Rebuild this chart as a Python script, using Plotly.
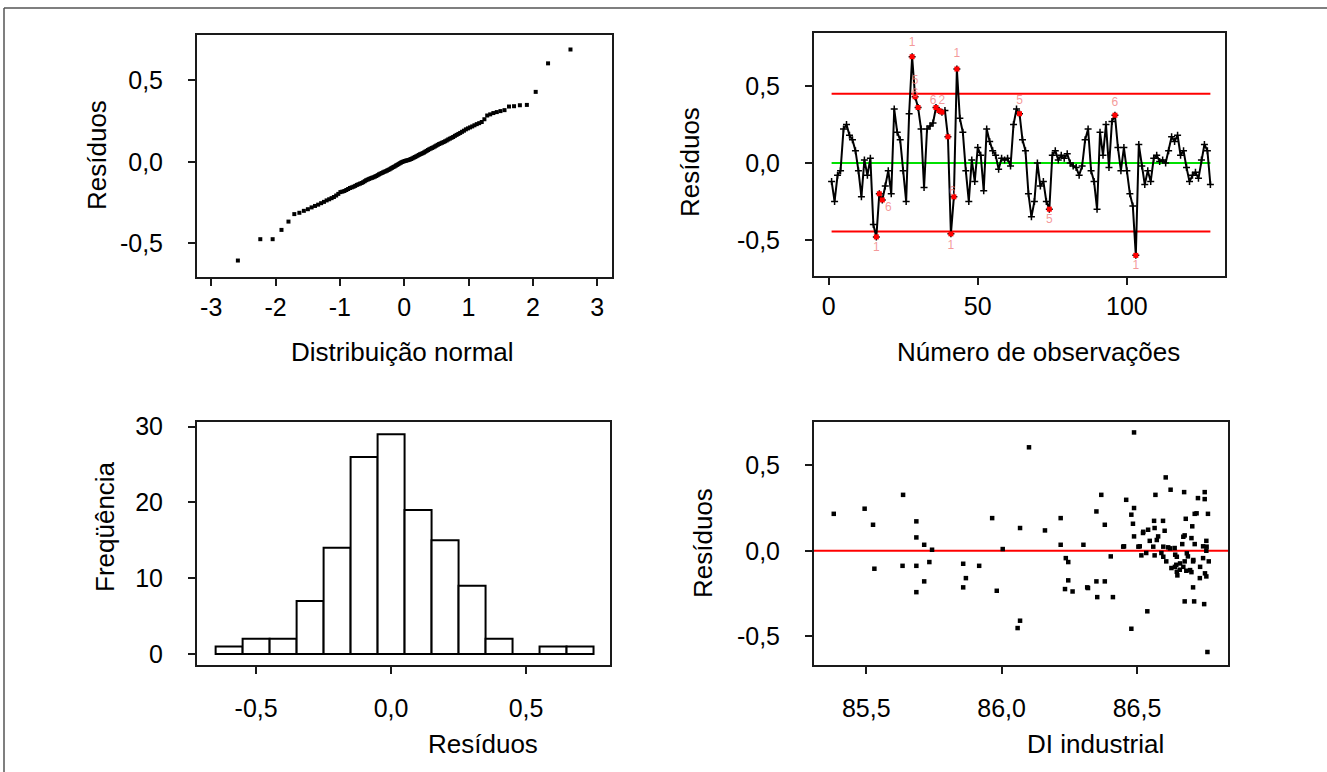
import plotly.graph_objects as go
from statistics import NormalDist

W, H = 1327, 772

# ---------------- data ----------------
# Normal probability plot: ordered residuals
qq_residuals = [-0.605, -0.474, -0.474, -0.417, -0.366, -0.320, -0.312, -0.300, -0.290, -0.279,
                -0.270, -0.262, -0.253, -0.245, -0.236, -0.229, -0.222, -0.215, -0.206, -0.196,
                -0.185, -0.182, -0.178, -0.172, -0.166, -0.160, -0.156, -0.152, -0.147, -0.141,
                -0.137, -0.133, -0.129, -0.124, -0.118, -0.112, -0.108, -0.104, -0.100, -0.097,
                -0.094, -0.090, -0.086, -0.081, -0.076, -0.072, -0.068, -0.064, -0.060, -0.057,
                -0.053, -0.049, -0.045, -0.040, -0.036, -0.031, -0.027, -0.022, -0.018, -0.013,
                -0.008, -0.004, 0.000, 0.003, 0.006, 0.008, 0.010, 0.012, 0.015, 0.018,
                0.022, 0.026, 0.030, 0.034, 0.038, 0.043, 0.047, 0.050, 0.054, 0.058,
                0.063, 0.068, 0.073, 0.078, 0.082, 0.086, 0.090, 0.095, 0.100, 0.105,
                0.110, 0.114, 0.118, 0.122, 0.127, 0.132, 0.138, 0.143, 0.148, 0.153,
                0.160, 0.166, 0.172, 0.178, 0.185, 0.192, 0.200, 0.206, 0.212, 0.218,
                0.225, 0.232, 0.238, 0.245, 0.262, 0.285, 0.292, 0.300, 0.306, 0.312,
                0.318, 0.340, 0.342, 0.348, 0.350, 0.430, 0.605, 0.690]

# Histogram of residuals
hist_centers = [-0.6, -0.5, -0.4, -0.3, -0.2, -0.1, 0.0, 0.1, 0.2, 0.3, 0.4, 0.5, 0.6, 0.7]
hist_counts = [1, 2, 2, 7, 14, 26, 29, 19, 15, 9, 2, 0, 1, 1]

# Individuals chart of residuals (observation order)
ts_residuals = [
    -0.12, -0.25, -0.08, -0.05, 0.22, 0.25, 0.18, 0.15, 0.08, -0.05,
    -0.22, 0.02, -0.08, 0.03, -0.40, -0.48, -0.20, -0.24, -0.15, -0.05,
    -0.20, 0.35, 0.20, 0.15, -0.05, -0.25, 0.32, 0.69, 0.43, 0.36,
    0.22, -0.16, 0.22, 0.24, 0.26, 0.36, 0.34, 0.33, 0.34, 0.17,
    -0.46, -0.22, 0.61, 0.29, 0.20, -0.05, -0.25, 0.02, -0.12, 0.10,
    0.05, -0.18, 0.22, 0.14, 0.08, 0.05, -0.04, 0.03, 0.02, 0.03,
    -0.02, 0.25, 0.35, 0.32, 0.15, 0.08, -0.20, -0.35, -0.25, 0.00,
    -0.15, -0.12, -0.25, -0.30, 0.05, 0.08, 0.02, 0.05, 0.03, 0.06,
    0.00, -0.02, -0.03, -0.08, -0.02, 0.15, 0.22, -0.05, -0.12, -0.30,
    0.20, 0.05, 0.25, -0.03, 0.27, 0.31, 0.10, -0.05, 0.10, -0.05,
    -0.20, -0.28, -0.60, 0.12, -0.02, -0.14, -0.05, -0.12, 0.03, 0.05,
    0.01, 0.02, 0.00, 0.08, 0.17, 0.14, 0.18, 0.05, 0.08, -0.03,
    -0.12, -0.08, -0.06, -0.10, 0.02, 0.12, 0.08, -0.14]
ucl, center_line, lcl = 0.45, 0.0, -0.445
flagged_obs = [16, 17, 18, 28, 29, 30, 36, 37, 38, 40, 41, 42, 43, 64, 74, 96, 103]
label_obs = [16, 20, 28, 29, 29, 35, 38, 41, 41.5, 43, 64, 74, 96, 103]
label_vals = [-0.55, -0.29, 0.78, 0.53, 0.45, 0.40, 0.40, -0.54, -0.19, 0.71, 0.40, -0.37, 0.39, -0.67]
label_text = ["1", "6", "1", "5", "6", "6", "2", "1", "6", "1", "5", "5", "6", "1"]

# Residuals versus fitted (DI industrial)
di_industrial = [85.380, 85.494, 85.525, 85.636, 85.685, 85.685, 85.714, 85.743, 85.530, 85.634,
                 85.685, 85.733, 85.714, 85.685,
                 86.101, 85.965, 86.068, 86.160, 86.218, 86.218, 86.302, 86.004, 85.858, 85.917,
                 85.868, 85.858, 85.982, 86.237, 86.246, 86.246, 86.234, 86.262, 86.316, 86.068, 86.059,
                 86.489, 86.606, 86.624, 86.568, 86.368, 86.460, 86.674, 86.750, 86.725, 86.750,
                 86.489, 86.479, 86.350, 86.713, 86.762, 86.381, 86.485, 86.563, 86.596, 86.680,
                 86.704, 86.541, 86.522, 86.565, 86.602, 86.489, 86.578, 86.547, 86.676, 86.701,
                 86.667, 86.713, 86.756, 86.452, 86.510, 86.615, 86.639, 86.744, 86.756, 86.403,
                 86.516, 86.534, 86.565, 86.590, 86.608, 86.641, 86.645, 86.688, 86.676, 86.707,
                 86.744, 86.765, 86.627, 86.658, 86.682, 86.701, 86.649, 86.732, 86.756, 86.707,
                 86.350, 86.381, 86.319, 86.353, 86.411, 86.676, 86.711, 86.748, 86.538, 86.479, 86.760,
                 86.573, 86.597, 86.622, 86.647, 86.671, 86.696, 86.708, 86.757, 86.659, 86.684,
                 86.523, 86.560, 86.733, 86.751, 86.647, 86.720, 86.671, 86.449, 86.505, 86.597, 86.640]
fit_residuals = [0.216, 0.246, 0.152, 0.327, 0.172, 0.078, 0.035, 0.006, -0.105, -0.088,
                 -0.088, -0.066, -0.179, -0.242,
                 0.605, 0.191, 0.133, 0.119, 0.191, 0.035, 0.035, 0.010, -0.076, -0.088,
                 -0.160, -0.214, -0.234, -0.043, -0.066, -0.173, -0.224, -0.238, -0.214, -0.409, -0.452,
                 0.692, 0.429, 0.357, 0.327, 0.327, 0.298, 0.343, 0.343, 0.308, 0.302,
                 0.250, 0.211, 0.230, 0.216, 0.216, 0.152, 0.158, 0.175, 0.175, 0.187,
                 0.143, 0.123, 0.104, 0.133, 0.117, 0.084, 0.084, 0.058, 0.090, 0.074,
                 0.039, 0.039, 0.058, 0.026, 0.026, 0.020, 0.016, 0.026, 0.000, -0.033,
                 -0.027, -0.013, -0.027, -0.013, -0.062, -0.023, -0.082, -0.033, -0.062, -0.062,
                 -0.043, -0.062, -0.101, -0.111, -0.117, -0.125, -0.144, -0.160, -0.150, -0.214,
                 -0.179, -0.179, -0.218, -0.271, -0.271, -0.296, -0.296, -0.312, -0.354, -0.456, -0.592,
                 0.063, 0.024, 0.014, -0.035, -0.094, -0.113, -0.054, 0.024, -0.074, -0.015,
                 0.111, 0.024, -0.094, -0.132, -0.123, 0.219, 0.082, 0.024, 0.024, -0.035, -0.094]

# tick labels
qq_x_ticks = [-3, -2, -1, 0, 1, 2, 3]
qq_x_labels = ["-3", "-2", "-1", "0", "1", "2", "3"]
res_ticks = [-0.5, 0.0, 0.5]
res_labels = ["-0,5", "0,0", "0,5"]
obs_ticks = [0, 50, 100]
obs_labels = ["0", "50", "100"]
freq_ticks = [0, 10, 20, 30]
freq_labels = ["0", "10", "20", "30"]
di_ticks = [85.5, 86.0, 86.5]
di_labels = ["85,5", "86,0", "86,5"]

# ---------------- figure ----------------
FONT = "Liberation Sans, Arial, sans-serif"
FS = 25

n = len(qq_residuals)
nd = NormalDist()
qq_x = [nd.inv_cdf((i + 1 - 0.375) / (n + 0.25)) for i in range(n)]
obs = list(range(1, len(ts_residuals) + 1))

fig = go.Figure()

# panel 1: normal probability plot
fig.add_trace(go.Scatter(x=qq_x, y=qq_residuals, mode="markers",
                         marker=dict(symbol="square", size=4, color="black"),
                         xaxis="x", yaxis="y", showlegend=False))

# panel 2: I chart
fig.add_trace(go.Scatter(x=[1, len(obs)], y=[ucl, ucl], mode="lines",
                         line=dict(color="#ff0000", width=2), xaxis="x2", yaxis="y2", showlegend=False))
fig.add_trace(go.Scatter(x=[1, len(obs)], y=[lcl, lcl], mode="lines",
                         line=dict(color="#ff0000", width=2), xaxis="x2", yaxis="y2", showlegend=False))
fig.add_trace(go.Scatter(x=[1, len(obs)], y=[center_line, center_line], mode="lines",
                         line=dict(color="#00e000", width=2), xaxis="x2", yaxis="y2", showlegend=False))
fig.add_trace(go.Scatter(x=obs, y=ts_residuals, mode="lines+markers",
                         line=dict(color="black", width=2),
                         marker=dict(symbol="cross-thin", size=5, color="black",
                                     line=dict(color="black", width=1.5)),
                         xaxis="x2", yaxis="y2", showlegend=False))
fig.add_trace(go.Scatter(x=flagged_obs, y=[ts_residuals[i - 1] for i in flagged_obs], mode="markers",
                         marker=dict(symbol="square", size=5, color="#ff0000"),
                         xaxis="x2", yaxis="y2", showlegend=False))
fig.add_trace(go.Scatter(x=label_obs, y=label_vals, mode="text", text=label_text,
                         textfont=dict(family=FONT, size=12, color="rgba(240,120,120,0.75)"),
                         xaxis="x2", yaxis="y2", showlegend=False))

# panel 3: histogram
fig.add_trace(go.Bar(x=hist_centers, y=hist_counts, width=0.1,
                     marker=dict(color="white", line=dict(color="black", width=2)),
                     xaxis="x3", yaxis="y3", showlegend=False))

# panel 4: residuals vs fits
fig.add_trace(go.Scatter(x=[85.2, 87.0], y=[0, 0], mode="lines",
                         line=dict(color="#ff0000", width=2), xaxis="x4", yaxis="y4", showlegend=False))
fig.add_trace(go.Scatter(x=di_industrial, y=fit_residuals, mode="markers",
                         marker=dict(symbol="square", size=4.5, color="black"),
                         xaxis="x4", yaxis="y4", showlegend=False))


def px_x(a, b):
    return [a / W, b / W]


def px_y(top, bottom):
    return [1 - bottom / H, 1 - top / H]


axis_common = dict(showline=True, mirror=True, linecolor="#1a1a1a", linewidth=2,
                   ticks="outside", ticklen=7, tickwidth=1.5, tickcolor="#1a1a1a",
                   showgrid=False, zeroline=False, fixedrange=True,
                   tickfont=dict(family=FONT, size=FS, color="black"))

fig.update_layout(
    width=W, height=H, margin=dict(l=0, r=0, t=0, b=0, pad=0, autoexpand=False),
    paper_bgcolor="white", plot_bgcolor="white",
    font=dict(family=FONT, size=FS, color="black"),
    xaxis=dict(axis_common, domain=px_x(197, 612), range=[-3.22, 3.23],
               tickvals=qq_x_ticks, ticktext=qq_x_labels, anchor="y", ticklabelstandoff=0),
    yaxis=dict(axis_common, domain=px_y(35, 277), range=[-0.706, 0.779],
               tickvals=res_ticks, ticktext=res_labels, anchor="x", ticklabelstandoff=20),
    xaxis2=dict(axis_common, domain=px_x(814, 1225), range=[-4.9, 132.9],
                tickvals=obs_ticks, ticktext=obs_labels, anchor="y2", ticklabelstandoff=0),
    yaxis2=dict(axis_common, domain=px_y(33, 276), range=[-0.734, 0.844],
                tickvals=res_ticks, ticktext=res_labels, anchor="x2", ticklabelstandoff=20),
    xaxis3=dict(axis_common, domain=px_x(197, 610), range=[-0.719, 0.811],
                tickvals=res_ticks, ticktext=res_labels, anchor="y3", ticklabelstandoff=13),
    yaxis3=dict(axis_common, domain=px_y(422, 665), range=[-1.45, 30.6],
                tickvals=freq_ticks, ticktext=freq_labels, anchor="x3", ticklabelstandoff=20),
    xaxis4=dict(axis_common, domain=px_x(814, 1228), range=[85.307, 86.836],
                tickvals=di_ticks, ticktext=di_labels, anchor="y4", ticklabelstandoff=13),
    yaxis4=dict(axis_common, domain=px_y(422, 665), range=[-0.668, 0.753],
                tickvals=res_ticks, ticktext=res_labels, anchor="x4", ticklabelstandoff=20),
)


def title(text, cx, cy, angle=0):
    fig.add_annotation(text=text, x=cx / W, y=1 - cy / H, xref="paper", yref="paper",
                       xanchor="center", yanchor="middle", showarrow=False, textangle=angle,
                       font=dict(family=FONT, size=FS + 1, color="black"))


title("Distribuição normal", 402, 352)
title("Resíduos", 97, 155, -90)
title("Número de observações", 1038, 352)
title("Resíduos", 690, 162, -90)
title("Freqüência", 105, 527, -90)
title("Resíduos", 483, 744)
title("Resíduos", 703, 543, -90)
title("DI industrial", 1095, 744)

# outer frame (top and left edges)
fig.add_shape(type="line", xref="paper", yref="paper", x0=4 / W, x1=1.0, y0=1 - 8 / H, y1=1 - 8 / H,
              line=dict(color="#555555", width=1.5))
fig.add_shape(type="line", xref="paper", yref="paper", x0=4 / W, x1=4 / W, y0=0, y1=1 - 8 / H,
              line=dict(color="#555555", width=1.5))

fig.write_html("out.html", config={"displayModeBar": False},
               post_script="document.body.style.margin='0';")
